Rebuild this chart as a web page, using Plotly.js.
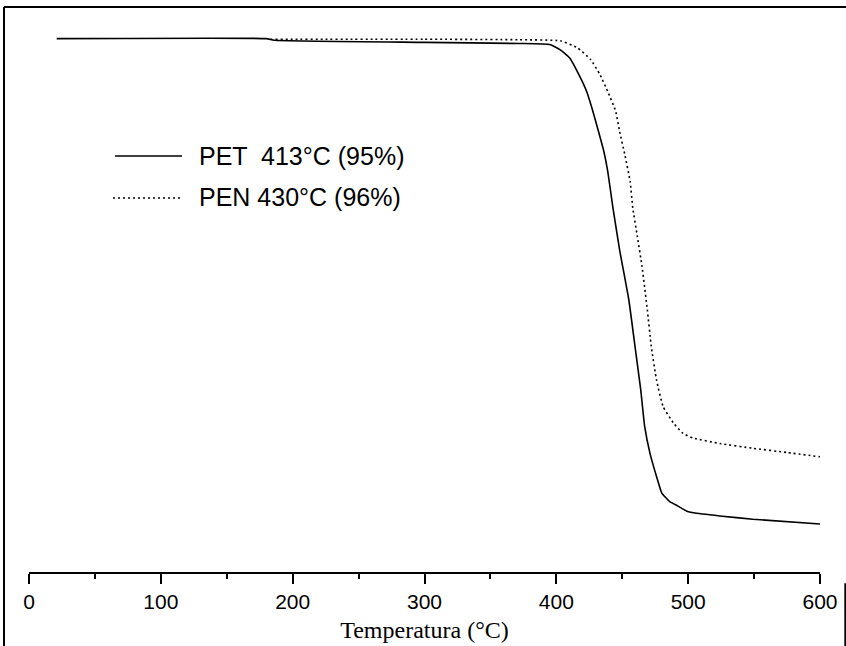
<!DOCTYPE html>
<html>
<head>
<meta charset="utf-8">
<script src="https://cdn.plot.ly/plotly-3.0.1.min.js"></script>
<style>
html,body{margin:0;padding:0;background:#fff;}
#chart{width:846px;height:646px;}
</style>
</head>
<body>
<div id="chart"></div>
<script>
// Temperature (°C) and residual mass (%)
const petTemp = [21, 180, 186, 300, 372, 395, 403, 410, 417, 423, 427, 432, 436, 439, 443, 448, 455, 460, 464, 467, 471, 476, 480, 486, 492, 499, 504, 524, 549, 600];
const petMass = [100, 100, 99.7, 99.3, 99.1, 98.9, 97.9, 96.4, 93.3, 90.1, 87.0, 82.6, 78.9, 75.1, 68.2, 60.4, 51.0, 41.7, 34.2, 27.3, 22.3, 17.9, 14.8, 13.2, 12.4, 11.4, 11.1, 10.5, 9.9, 9.0];

const penTemp = [183, 300, 372, 403, 416, 426, 433, 439, 445, 448, 452, 456, 458, 461, 465, 469, 472, 476, 481, 489, 496, 504, 524, 549, 575, 600];
const penMass = [99.9, 99.9, 99.8, 99.6, 98.3, 96.1, 93.3, 90.1, 86.4, 82.6, 78.2, 73.2, 68.2, 63.6, 57.3, 49.2, 42.3, 36.0, 31.0, 27.9, 26.0, 25.1, 24.1, 23.2, 22.4, 21.6];

const seriesNames = ['PET  413°C (95%)', 'PEN 430°C (96%)'];
const xTickVals = [0, 100, 200, 300, 400, 500, 600];
const xTickText = ['0', '100', '200', '300', '400', '500', '600'];

const traces = [
  {x: petTemp, y: petMass, name: seriesNames[0], type: 'scatter', mode: 'lines',
   line: {color: '#000', width: 1.6, shape: 'spline', smoothing: 0.4}, showlegend: false},
  {x: penTemp, y: penMass, name: seriesNames[1], type: 'scatter', mode: 'lines',
   line: {color: '#000', width: 1.6, dash: '2px,3px', shape: 'spline', smoothing: 0.4}, showlegend: false}
];

const layout = {
  width: 846, height: 646,
  margin: {l: 29, r: 26, t: 12, b: 74},
  paper_bgcolor: '#fff', plot_bgcolor: '#fff',
  showlegend: false,
  xaxis: {
    range: [0, 600], showgrid: false, zeroline: false,
    showline: true, linecolor: '#000', linewidth: 2,
    ticks: 'outside', ticklen: 10, tickwidth: 2, tickcolor: '#000',
    tickvals: xTickVals, ticktext: xTickText,
    minor: {dtick: 50, tick0: 0, ticks: 'outside', ticklen: 5, tickwidth: 2, tickcolor: '#000', showgrid: false},
    tickfont: {family: 'Liberation Sans, Arial, sans-serif', size: 21, color: '#000'},
    title: {text: 'Temperatura (°C)', standoff: 9,
            font: {family: 'Liberation Serif, Times New Roman, serif', size: 24, color: '#000'}}
  },
  yaxis: {range: [0, 105], visible: false, showgrid: false, zeroline: false},
  shapes: [
    // scanned page frame
    {type: 'line', xref: 'paper', yref: 'paper', x0: -0.0316, x1: 1.033, y0: 1.009, y1: 1.009, line: {color: '#000', width: 2}},
    {type: 'line', xref: 'paper', yref: 'paper', x0: -0.0316, x1: -0.0316, y0: 1.009, y1: -0.132, line: {color: '#000', width: 2}},
    {type: 'line', xref: 'paper', yref: 'paper', x0: 1.032, x1: 1.032, y0: -0.02, y1: -0.132, line: {color: '#000', width: 2}},
    // legend samples
    {type: 'line', xref: 'paper', yref: 'paper', x0: 0.1087, x1: 0.1934, y0: 0.7429, y1: 0.7429, line: {color: '#000', width: 1.6}},
    {type: 'line', xref: 'paper', yref: 'paper', x0: 0.1062, x1: 0.1947, y0: 0.6679, y1: 0.6679, line: {color: '#000', width: 1.6, dash: '2px,3px'}}
  ],
  annotations: [
    {xref: 'paper', yref: 'paper', x: 0.2124, y: 0.742, xanchor: 'left', yanchor: 'middle', showarrow: false,
     text: seriesNames[0], font: {family: 'Liberation Sans, Arial, sans-serif', size: 25, color: '#000'}},
    {xref: 'paper', yref: 'paper', x: 0.2124, y: 0.6696, xanchor: 'left', yanchor: 'middle', showarrow: false,
     text: seriesNames[1], font: {family: 'Liberation Sans, Arial, sans-serif', size: 25, color: '#000'}}
  ]
};

Plotly.newPlot('chart', traces, layout, {staticPlot: true, displayModeBar: false});
</script>
</body>
</html>
